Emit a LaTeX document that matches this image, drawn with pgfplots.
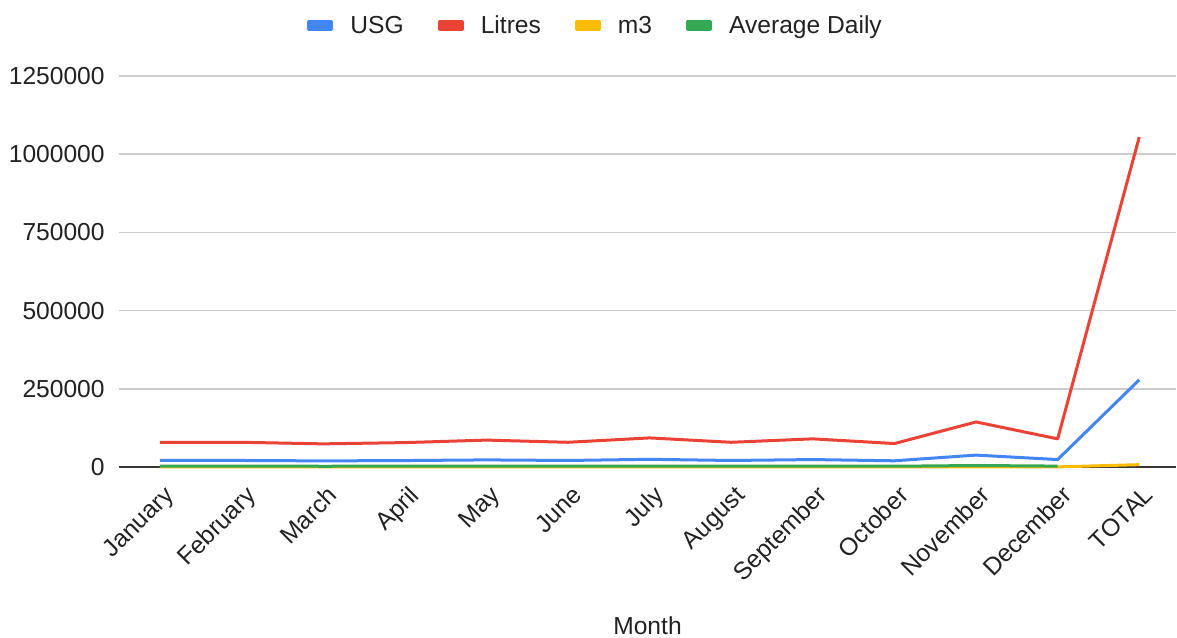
\documentclass[border=0pt]{standalone}
\usepackage{pgfplots}
\pgfplotsset{compat=1.18}
\usepackage{fontspec}
\setmainfont{Liberation Sans}

\definecolor{usg}{HTML}{4285F4}
\definecolor{litres}{HTML}{EA4335}
\definecolor{mthree}{HTML}{FBBC04}
\definecolor{avgd}{HTML}{34A853}
\definecolor{txt}{HTML}{222222}
\definecolor{gridc}{HTML}{CCCCCC}

\newcommand{\lblfont}{\fontsize{12.3}{14}\selectfont}

\begin{document}
\begin{tikzpicture}
\begin{axis}[
    at={(0,0)}, anchor=south west,
    scale only axis,
    width=528.5pt, height=195.5pt,
    xmin=-0.5, xmax=12.45,
    ymin=0, ymax=1250000,
    clip=false,
    xtick={0,...,12},
    xticklabels={January,February,March,April,May,June,July,August,September,October,November,December,TOTAL},
    ytick={0,250000,500000,750000,1000000,1250000},
    scaled y ticks=false,
    yticklabel style={/pgf/number format/fixed, /pgf/number format/1000 sep={},
        /pgf/number format/assume math mode=true, anchor=east, xshift=-7pt},
    ymajorgrids=true,
    major grid style={draw=gridc, line width=0.7pt},
    major tick length=0pt,
    axis x line*=bottom,
    axis y line*=left,
    x axis line style={draw=txt!90, line width=0.7pt, -},
    y axis line style={draw=none},
    tick label style={font=\lblfont, text=txt, inner sep=0pt},
    xticklabel style={xshift=1.5pt, yshift=-8.5pt, rotate=45, anchor=north east},
    xlabel={Month},
    xlabel style={at={(axis description cs:0.5,0)}, anchor=center, yshift=-79.5pt,
        font=\lblfont, text=txt},
    legend columns=-1,
    legend style={at={(0.45,1.128)}, anchor=center, draw=none, fill=none,
        font=\lblfont, text=txt,
        nodes={inner sep=0pt},
        /tikz/every odd column/.append style={column sep=8.5pt},
        /tikz/every even column/.append style={column sep=17pt}},
    legend image code/.code={\fill[#1] (0pt,-2pt) rectangle (11.5pt,2pt);},
    every axis plot/.append style={line width=1.5pt, line join=round, mark=none},
]
\addplot[color=usg] coordinates {
(0,20870) (1,20870) (2,19550) (3,20610) (4,22720) (5,20870) (6,24570)
(7,20870) (8,23780) (9,19810) (10,38040) (11,23780) (12,278700)};
\addplot[color=litres] coordinates {
(0,79000) (1,79000) (2,74000) (3,78000) (4,86000) (5,79000) (6,93000)
(7,79000) (8,90000) (9,75000) (10,144000) (11,90000) (12,1055000)};
\addplot[color=mthree] coordinates {
(0,300) (1,300) (2,300) (3,300) (4,300) (5,300) (6,300)
(7,300) (8,300) (9,300) (10,300) (11,300) (12,7500)};
\addplot[color=avgd] coordinates {
(0,2548) (1,2821) (2,2387) (3,2600) (4,2774) (5,2633) (6,3000)
(7,2548) (8,3000) (9,2419) (10,4800) (11,2903)};
\legend{USG, Litres, m3, Average Daily}
\end{axis}
\pgfresetboundingbox
\useasboundingbox (-59.5pt,-85pt) rectangle (529pt,233.5pt);
\end{tikzpicture}
\end{document}
